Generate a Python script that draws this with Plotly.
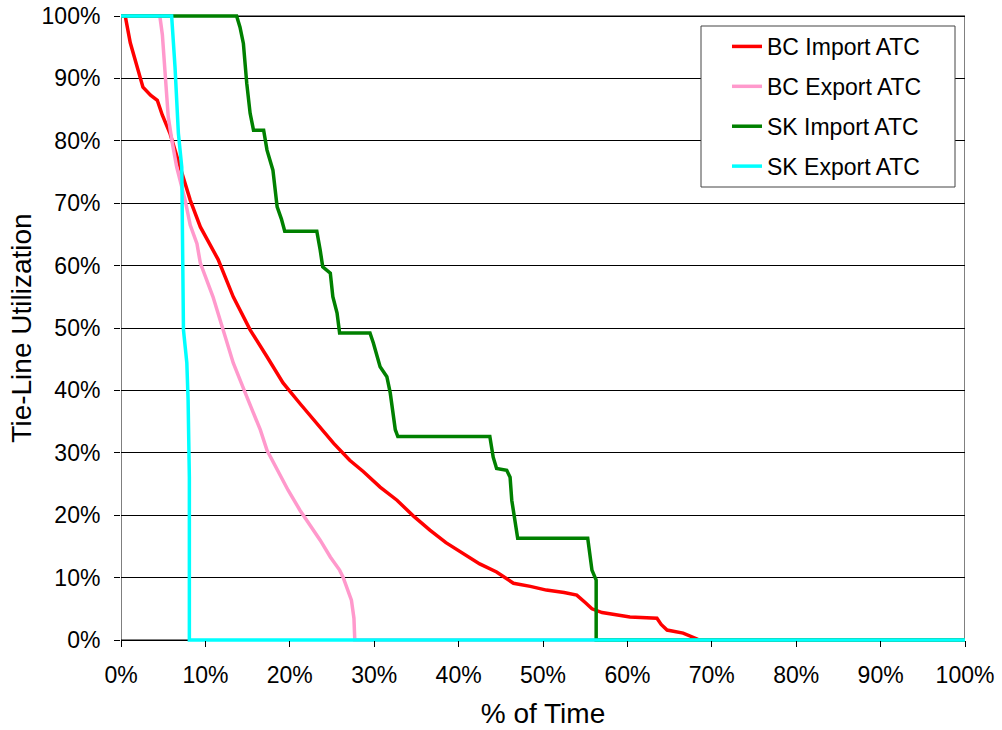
import plotly.graph_objects as go

# Duration curves: share of time (x, %) at or above each utilization level (y, %)
bc_import_time = [0, 0.5, 1.1, 1.9, 2.6, 3.5, 4.3, 4.9, 5.8, 7.0, 8.2, 9.4, 10.8, 11.5, 13.3,
                  15.3, 17.3, 19.2, 21.2, 23.2, 25.2, 27.1, 28.7, 30.7, 32.7, 34.7, 36.6, 38.5,
                  40.5, 42.5, 44.5, 46.5, 48.5, 50.4, 52.5, 54.0, 55.0, 55.8, 57.0, 58.7, 60.3,
                  63.5, 64.0, 64.7, 66.6, 68.2, 68.5, 100]
bc_import_util = [100, 100, 95.7, 91.8, 88.6, 87.3, 86.5, 84.1, 81.2, 75.8, 70.5, 66.2, 62.8, 61.0,
                  55.0, 49.7, 45.4, 41.2, 37.9, 34.7, 31.5, 28.8, 27.0, 24.5, 22.4, 19.8, 17.6,
                  15.6, 13.9, 12.2, 10.9, 9.1, 8.6, 8.0, 7.6, 7.2, 6.0, 5.0, 4.4, 4.0, 3.7, 3.5,
                  2.5, 1.6, 1.1, 0.2, 0, 0]

bc_export_time = [0, 4.6, 4.9, 5.2, 5.6, 6.1, 6.6, 7.6, 8.2, 9.0, 9.4, 10.9, 12.1, 13.3, 14.9,
                  16.5, 17.3, 18.5, 19.8, 21.2, 22.4, 23.6, 24.8, 25.9, 26.3, 27.0, 27.3, 27.6,
                  27.7, 27.7, 100]
bc_export_util = [100, 100, 97.0, 91.8, 83.8, 79.5, 75.8, 70.5, 66.5, 63.5, 60.4, 55.0, 49.7, 44.4,
                  39.0, 33.7, 30.4, 27.2, 24.0, 20.8, 18.4, 16.0, 13.3, 11.2, 10.1, 7.5, 6.4, 3.5,
                  1.1, 0, 0]

sk_import_time = [0, 13.7, 14.1, 14.5, 14.9, 15.3, 15.7, 16.9, 17.3, 18.0, 18.5, 19.0, 19.4, 23.2,
                  23.6, 23.9, 24.8, 25.1, 25.6, 25.9, 29.5, 29.9, 30.7, 31.5, 31.9, 32.5, 32.8,
                  43.7, 44.1, 44.5, 45.7, 46.1, 46.3, 47.0, 55.3, 55.8, 56.3, 56.3, 100]
sk_import_util = [100, 100, 98.2, 95.6, 89.2, 84.4, 81.7, 81.7, 78.5, 75.3, 69.4, 67.5, 65.5, 65.5,
                  62.5, 59.8, 58.8, 55.0, 52.4, 49.2, 49.2, 47.6, 43.8, 42.2, 39.6, 33.7, 32.6,
                  32.6, 29.3, 27.5, 27.2, 26.1, 22.4, 16.3, 16.3, 11.2, 9.6, 0, 0]

sk_export_time = [0, 6.0, 6.4, 6.8, 7.2, 7.3, 7.4, 7.8, 7.95, 8.1, 8.1, 100]
sk_export_util = [100, 100, 91.8, 81.2, 75.8, 62.5, 49.7, 44.4, 38.5, 26.1, 0, 0]

series = [
    ("BC Import ATC", bc_import_time, bc_import_util, "#FF0000"),
    ("BC Export ATC", bc_export_time, bc_export_util, "#FF99CC"),
    ("SK Import ATC", sk_import_time, sk_import_util, "#008000"),
    ("SK Export ATC", sk_export_time, sk_export_util, "#00FFFF"),
]

tick_vals = list(range(0, 101, 10))
tick_text = [f"{v}%" for v in tick_vals]
FONT = "Liberation Sans, Arial, sans-serif"

fig = go.Figure()
for i, (name, xs, ys, color) in enumerate(series):
    fig.add_trace(go.Scatter(
        x=xs, y=ys, name=name, mode="lines",
        line=dict(color=color, width=3.5),
        legendgroup=f"g{i}",
    ))

# small padding so lines lying on 0% / 100% are not clipped
pad = 3 / 624 * 100

fig.update_layout(
    template="none",
    width=1002, height=730,
    margin=dict(l=121, r=37, t=13, b=87),
    paper_bgcolor="white", plot_bgcolor="white",
    font=dict(family=FONT, size=23, color="black"),
    showlegend=True,
    legend=dict(
        x=0.718, y=0.981, xanchor="left", yanchor="top",
        bgcolor="rgba(0,0,0,0)", borderwidth=0,
        traceorder="grouped", tracegroupgap=7,
        font=dict(family=FONT, size=23, color="black"),
    ),
    xaxis=dict(
        range=[0, 100], tickvals=tick_vals, ticktext=tick_text,
        showgrid=False, zeroline=False, showline=False, automargin=False,
        ticks="outside", ticklen=6, tickcolor="black", ticklabelstandoff=8,
        anchor="free", position=3 / 630,
        title=dict(text="% of Time", standoff=16),
    ),
    yaxis=dict(
        range=[-pad, 100 + pad], tickvals=tick_vals, ticktext=tick_text,
        showgrid=True, gridcolor="black", gridwidth=1,
        zeroline=False, showline=False, automargin=False,
        ticks="outside", ticklen=6, tickcolor="black", ticklabelstandoff=9,
        title=dict(text="Tie-Line Utilization", standoff=1),
    ),
    shapes=[
        # plot frame
        dict(type="rect", xref="x", yref="y", x0=0, x1=100, y0=0, y1=100,
             line=dict(color="black", width=1), fillcolor="rgba(0,0,0,0)", layer="below"),
        # legend box
        dict(type="rect", xref="paper", yref="paper",
             x0=(701 - 121) / 844, x1=(955 - 121) / 844,
             y0=(643 - 187) / 630, y1=(643 - 26) / 630,
             line=dict(color="#444444", width=1), fillcolor="white", layer="above"),
    ],
)

fig.write_html("out.html")
